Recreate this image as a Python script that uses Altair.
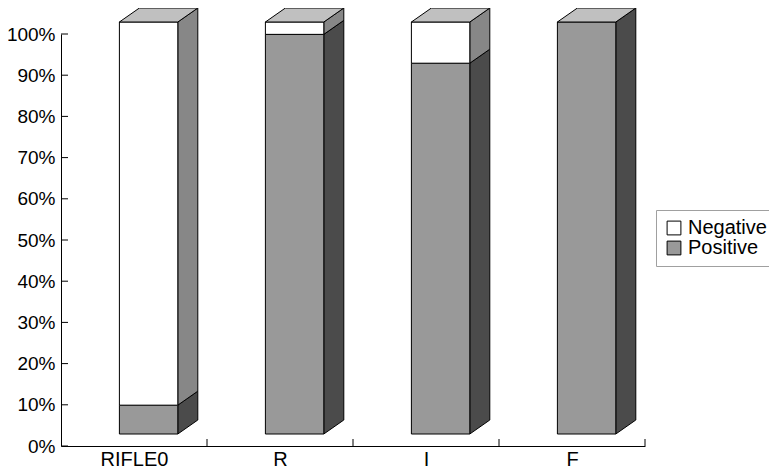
import altair as alt
import pandas as pd

# ---- data ----
categories = ["RIFLE0", "R", "I", "F"]
positive = [7, 97, 90, 100]
negative = [93, 3, 10, 0]
series = ["Negative", "Positive"]
y_ticks = [0, 10, 20, 30, 40, 50, 60, 70, 80, 90, 100]
x_boundaries = [1, 2, 3, 4]

# ---- geometry of the pseudo-3D bars (in data units) ----
W, H = 584, 412
PX_X = W / 4.0      # px per category unit
PX_Y = H / 100.0    # px per percent
FRONT_L, FRONT_R = 0.40, 0.80
DX = 20 / PX_X
DY = 14 / PX_Y
LIFT = 12 / PX_Y

front_rows, side_rows, top_rows = [], [], []
for i, cat in enumerate(categories):
    segs = [("Positive", 0, positive[i]), ("Negative", positive[i], positive[i] + negative[i])]
    for s, lo, hi in segs:
        if hi - lo <= 0:
            continue
        front_rows.append(dict(series=s, x=i + FRONT_L, x2=i + FRONT_R, y=lo + LIFT, y2=hi + LIFT))
        seg = f"{cat}-{s}"
        side_rows.append(dict(seg=seg, series=s, x=i + FRONT_R, y=lo + LIFT, y2=hi + LIFT))
        side_rows.append(dict(seg=seg, series=s, x=i + FRONT_R + DX, y=lo + LIFT + DY, y2=hi + LIFT + DY))
    top = 100 + LIFT
    top_rows.append(dict(bar=cat, y=top, x=i + FRONT_L, x2=i + FRONT_R))
    top_rows.append(dict(bar=cat, y=top + DY, x=i + FRONT_L + DX, x2=i + FRONT_R + DX))

front_df = pd.DataFrame(front_rows)
side_df = pd.DataFrame(side_rows)
top_df = pd.DataFrame(top_rows)
ytick_df = pd.DataFrame({"v": y_ticks})
xtick_df = pd.DataFrame({"v": x_boundaries})

FONT = "Liberation Sans"
xscale = alt.Scale(domain=[0, 4], nice=False, zero=False)
yscale = alt.Scale(domain=[0, 100], nice=False, zero=False)

label_expr = "[" + ",".join(f"'{c}'" for c in categories) + "][floor(datum.value)]"
x_axis = alt.Axis(values=[0.5, 1.5, 2.5, 3.5], labelExpr=label_expr, ticks=False, grid=False,
                  title=None, labelFontSize=20, labelFont=FONT, labelColor="black",
                  domainColor="black", labelPadding=3)
y_axis = alt.Axis(values=y_ticks, labelExpr="datum.value + '%'", ticks=False, grid=False,
                  title=None, labelFontSize=19, labelFont=FONT, labelColor="black",
                  domainColor="black", labelPadding=6)

sides_pos = alt.Chart(side_df).transform_filter(alt.datum.series == "Positive").mark_area(
    orient="vertical", fill="#4b4b4b", stroke="black", strokeWidth=1
).encode(
    x=alt.X("x:Q", scale=xscale, axis=x_axis),
    y=alt.Y("y:Q", scale=yscale, axis=y_axis),
    y2="y2:Q",
    detail="seg:N",
)
sides_neg = alt.Chart(side_df).transform_filter(alt.datum.series == "Negative").mark_area(
    orient="vertical", fill="#878787", stroke="black", strokeWidth=1
).encode(
    x=alt.X("x:Q", scale=xscale, axis=x_axis),
    y=alt.Y("y:Q", scale=yscale, axis=y_axis),
    y2="y2:Q",
    detail="seg:N",
)

fronts = alt.Chart(front_df).mark_rect(stroke="black", strokeWidth=1).encode(
    x=alt.X("x:Q", scale=xscale, axis=x_axis),
    x2="x2:Q",
    y=alt.Y("y:Q", scale=yscale, axis=y_axis),
    y2="y2:Q",
    color=alt.Color(
        "series:N",
        scale=alt.Scale(domain=series, range=["#ffffff", "#999999"]),
        legend=alt.Legend(
            orient="none", legendX=595, legendY=176, title=None,
            symbolType="square", symbolSize=190, symbolStrokeColor="black",
            symbolStrokeWidth=1, labelFontSize=20, labelFont=FONT, labelColor="black",
            strokeColor="#a0a0a0", fillColor="white", padding=8, rowPadding=0,
            labelOffset=4,
        ),
    ),
)

tops = alt.Chart(top_df).mark_area(
    orient="horizontal", fill="#c0c0c0", stroke="black", strokeWidth=1
).encode(
    y=alt.Y("y:Q", scale=yscale, axis=y_axis),
    x=alt.X("x:Q", scale=xscale, axis=x_axis),
    x2="x2:Q",
    detail="bar:N",
)

yticks = alt.Chart(ytick_df).mark_rule(color="black", strokeWidth=1).encode(
    y=alt.Y("v:Q", scale=yscale, axis=y_axis),
    x=alt.value(0),
    x2=alt.value(7),
)
xticks = alt.Chart(xtick_df).mark_rule(color="black", strokeWidth=1).encode(
    x=alt.X("v:Q", scale=xscale, axis=x_axis),
    y=alt.value(H),
    y2=alt.value(H - 7),
)

chart = alt.layer(sides_pos, sides_neg, fronts, tops, yticks, xticks).properties(
    width=W, height=H,
    autosize=alt.AutoSizeParams(type="none"),
    padding={"left": 53, "top": 26, "right": 124, "bottom": 22},
).configure_view(stroke=None).configure_axis(domainWidth=1)

chart.save("out.html", embed_options={"renderer": "svg", "actions": False})
